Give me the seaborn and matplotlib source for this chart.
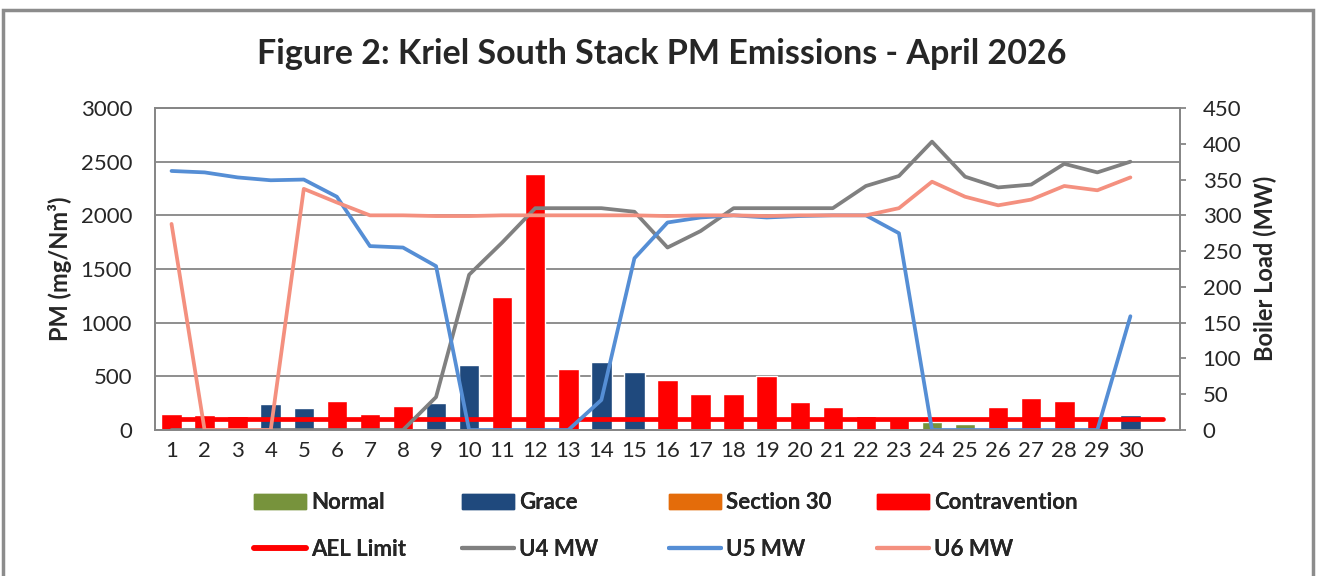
import matplotlib
matplotlib.use("Agg")
import matplotlib.pyplot as plt
from matplotlib.lines import Line2D
from matplotlib.patches import Patch, Rectangle
import seaborn as sns


DAYS = list(range(1, 31))
TICK_LABELS = [str(d) for d in DAYS]

PM = [149, 140, 133, 242, 205, 273, 149, 226, 254, 606,
      1239, 2381, 565, 636, 543, 466, 338, 335, 500, 264,
      217, 133, 124, 75, 55, 211, 298, 273, 124, 140]
STATUS = (["Contravention"] * 3 + ["Grace"] * 2 + ["Contravention"] * 3
          + ["Grace"] * 2 + ["Contravention"] * 3 + ["Grace"] * 2
          + ["Contravention"] * 8 + ["Normal"] * 2 + ["Contravention"] * 4
          + ["Grace"])

AEL_DAYS = list(range(1, 32))
AEL_LIMIT = [100] * 31

U4_MW = [0, 0, 0, 0, 0, 0, 0, 0, 46, 217,
         262, 310, 310, 310, 305, 255, 278, 310, 310, 310,
         310, 341, 355, 403, 354, 339, 343, 372, 360, 375]
U5_MW = [362, 360, 353, 349, 350, 326, 257, 255, 229, 0,
         0, 0, 0, 42, 240, 290, 297, 300, 297, 299,
         300, 300, 275, 0, 0, 0, 0, 0, 0, 159]
U6_MW = [288, 0, 0, 0, 337, 318, 300, 300, 299, 299,
         300, 300, 300, 300, 300, 299, 300, 300, 299, 300,
         300, 300, 310, 347, 326, 314, 322, 341, 335, 353]

STATUS_COLORS = {
    "Normal": "#77933C",
    "Grace": "#1F497D",
    "Section 30": "#E46C0A",
    "Contravention": "#FF0000",
}
AEL_COLOR = "#FF0000"
U4_COLOR = "#808080"
U5_COLOR = "#558ED5"
U6_COLOR = "#F4907F"
GRID_COLOR = "#868686"

W, H = 1321, 576
TICK_SIZE = 16
LEGEND_SIZE = 16


def main() -> None:
    sns.set_style("white")
    plt.rcParams["font.family"] = ["Lato", "DejaVu Sans"]

    fig = plt.figure(figsize=(W / 100, H / 100), dpi=100)
    ax = fig.add_axes([155 / W, 1 - 430 / H, (1180 - 155) / W, (430 - 108) / H])

    sns.barplot(x=DAYS, y=PM, hue=STATUS, palette=STATUS_COLORS,
                native_scale=True, dodge=False, width=0.62, saturation=1,
                errorbar=None, legend=False, ax=ax, zorder=2)
    sns.lineplot(x=AEL_DAYS, y=AEL_LIMIT, color=AEL_COLOR, linewidth=3.4,
                 ax=ax, zorder=3, solid_capstyle="round")

    ax.set_xlim(0.5, 31.5)
    ax.set_ylim(0, 3000)
    ax.set_yticks(range(0, 3001, 500))
    ax.set_xticks(DAYS)
    ax.set_xticklabels(TICK_LABELS)
    ax.set_xticks([d + 0.5 for d in range(0, 32)], minor=True)
    ax.tick_params(axis="x", which="major", length=0, labelsize=TICK_SIZE, pad=8)
    ax.tick_params(axis="x", which="minor", length=4.3, color=GRID_COLOR, width=1.3)
    ax.tick_params(axis="y", length=0, labelsize=TICK_SIZE, pad=16.5)
    ax.yaxis.grid(True, color=GRID_COLOR, linewidth=1.3)
    ax.set_axisbelow(True)
    ax.set_xlabel("")
    ax.set_ylabel("")
    for s in ax.spines.values():
        s.set_color(GRID_COLOR)
        s.set_linewidth(1.3)

    ax2 = ax.twinx()
    sns.lineplot(x=DAYS, y=U4_MW, color=U4_COLOR, linewidth=2.7, ax=ax2)
    sns.lineplot(x=DAYS, y=U5_MW, color=U5_COLOR, linewidth=2.7, ax=ax2)
    sns.lineplot(x=DAYS, y=U6_MW, color=U6_COLOR, linewidth=2.7, ax=ax2)
    ax2.set_ylim(0, 450)
    ax2.set_yticks(range(0, 451, 50))
    ax2.tick_params(axis="y", length=4.3, width=1.3, color=GRID_COLOR,
                    labelsize=TICK_SIZE, pad=12)
    ax2.set_ylabel("")
    for s in ax2.spines.values():
        s.set_color(GRID_COLOR)
        s.set_linewidth(1.3)

    fig.text(662 / W, 1 - 54 / H, "Figure 2: Kriel South Stack PM Emissions - April 2026",
             ha="center", va="center", fontsize=24.5, fontweight="bold")
    fig.text(60 / W, 1 - 269 / H, "PM (mg/Nm³)", rotation=90, ha="center",
             va="center", fontsize=17, fontweight="bold")
    fig.text(1265 / W, 1 - 268 / H, "Boiler Load (MW)", rotation=90, ha="center",
             va="center", fontsize=17, fontweight="bold")

    columns = [
        (254, Patch(color=STATUS_COLORS["Normal"]), "Normal",
         Line2D([], [], color=AEL_COLOR, lw=4, solid_capstyle="round"), "AEL Limit"),
        (462, Patch(color=STATUS_COLORS["Grace"]), "Grace",
         Line2D([], [], color=U4_COLOR, lw=3, solid_capstyle="round"), "U4 MW"),
        (669, Patch(color=STATUS_COLORS["Section 30"]), "Section 30",
         Line2D([], [], color=U5_COLOR, lw=3, solid_capstyle="round"), "U5 MW"),
        (877, Patch(color=STATUS_COLORS["Contravention"]), "Contravention",
         Line2D([], [], color=U6_COLOR, lw=3, solid_capstyle="round"), "U6 MW"),
    ]
    for x, h1, l1, h2, l2 in columns:
        leg = fig.legend([h1, h2], [l1, l2], loc="center left",
                         bbox_to_anchor=(x / W, 1 - 526 / H), frameon=False,
                         prop={"weight": "bold", "size": LEGEND_SIZE},
                         handlelength=2.34, handleheight=0.63, handletextpad=0.23,
                         labelspacing=1.15, borderpad=0, borderaxespad=0)
        fig.add_artist(leg)

    fig.add_artist(Rectangle((3 / W, -0.05), (1313 - 3) / W, 1 - 10 / H + 0.05,
                             transform=fig.transFigure, fill=False,
                             edgecolor="#8C8C8C", linewidth=2.5))

    fig.savefig("out.png", dpi=100)
    plt.close(fig)


if __name__ == "__main__":
    main()
